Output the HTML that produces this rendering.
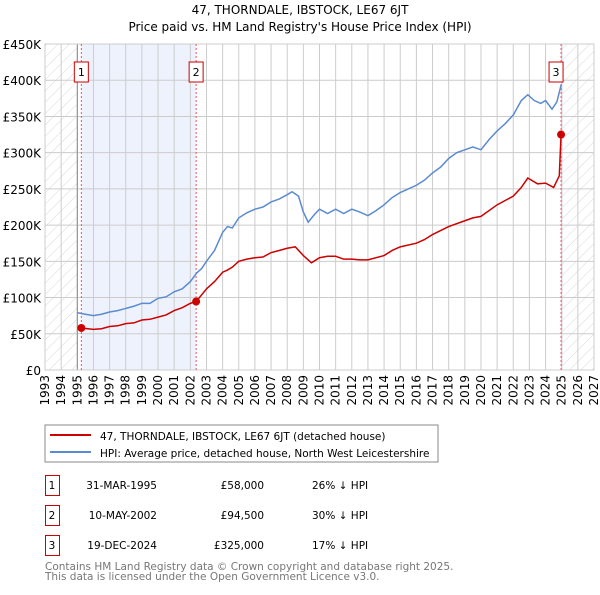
<!DOCTYPE html>
<html><head><meta charset="utf-8"><style>
body{margin:0;background:#fff;font-family:"Liberation Sans","DejaVu Sans",sans-serif;}
svg text{font-family:"DejaVu Sans","Liberation Sans",sans-serif;}
</style></head><body>
<svg id="c" width="600" height="590" xmlns="http://www.w3.org/2000/svg">
<defs><pattern id="h" width="8" height="8" patternUnits="userSpaceOnUse" patternTransform="rotate(45)"><line x1="0" y1="0" x2="0" y2="8" stroke="#d8d8d8" stroke-width="1"/></pattern></defs>
<text x="300" y="14" text-anchor="middle" font-size="12">47, THORNDALE, IBSTOCK, LE67 6JT</text>
<text x="300" y="31" text-anchor="middle" font-size="12">Price paid vs. HM Land Registry's House Price Index (HPI)</text>
<g id="plot"></g>
<rect x="45" y="425" width="393" height="37" fill="#fff" stroke="#888"/>
<line x1="50" y1="435" x2="91" y2="435" stroke="#cc0000" stroke-width="2"/>
<text x="100" y="440" font-size="10.5">47, THORNDALE, IBSTOCK, LE67 6JT (detached house)</text>
<line x1="50" y1="452" x2="91" y2="452" stroke="#5b8bd0" stroke-width="2"/>
<text x="100" y="457" font-size="10.5">HPI: Average price, detached house, North West Leicestershire</text>
<g font-size="10.5">
<rect x="45.5" y="475.5" width="14" height="20" fill="none" stroke="#cc0000"/><text x="52" y="489" text-anchor="middle">1</text>
<text x="157" y="489" text-anchor="end">31-MAR-1995</text><text x="264" y="489" text-anchor="end">£58,000</text><text x="312" y="489">26% ↓ HPI</text>
<rect x="45.5" y="505.5" width="14" height="20" fill="none" stroke="#cc0000"/><text x="52" y="519" text-anchor="middle">2</text>
<text x="157" y="519" text-anchor="end">10-MAY-2002</text><text x="264" y="519" text-anchor="end">£94,500</text><text x="312" y="519">30% ↓ HPI</text>
<rect x="45.5" y="535.5" width="14" height="20" fill="none" stroke="#cc0000"/><text x="52" y="549" text-anchor="middle">3</text>
<text x="157" y="549" text-anchor="end">19-DEC-2024</text><text x="264" y="549" text-anchor="end">£325,000</text><text x="312" y="549">17% ↓ HPI</text>
</g>
<text x="45" y="570" font-size="10.5" fill="#777">Contains HM Land Registry data © Crown copyright and database right 2025.</text>
<text x="45" y="580" font-size="10.5" fill="#777">This data is licensed under the Open Government Licence v3.0.</text>
</svg>
<script>
const yTicks=[0,50,100,150,200,250,300,350,400,450];
const years=[1993,1994,1995,1996,1997,1998,1999,2000,2001,2002,2003,2004,2005,2006,2007,2008,2009,2010,2011,2012,2013,2014,2015,2016,2017,2018,2019,2020,2021,2022,2023,2024,2025,2026,2027];
const hpiT=[1995.0,1995.5,1996,1996.5,1997,1997.5,1998,1998.5,1999,1999.5,2000,2000.5,2001,2001.5,2002,2002.4,2002.7,2003,2003.5,2004,2004.3,2004.6,2005,2005.5,2006,2006.5,2007,2007.5,2008,2008.3,2008.7,2009,2009.3,2009.7,2010,2010.5,2011,2011.5,2012,2012.5,2013,2013.5,2014,2014.5,2015,2015.5,2016,2016.5,2017,2017.5,2018,2018.5,2019,2019.5,2020,2020.5,2021,2021.5,2022,2022.5,2022.9,2023.3,2023.7,2024,2024.4,2024.7,2024.97];
const hpiV=[79,77,75,77,80,82,85,88,92,92,99,101,108,112,122,134,140,150,165,190,198,196,210,217,222,225,232,236,242,246,240,218,204,215,222,216,222,216,222,218,213,220,228,238,245,250,255,262,272,280,292,300,304,308,304,318,330,340,352,372,380,372,368,372,360,370,394];
const ppT=[1995.25,1996,1996.5,1997,1997.5,1998,1998.5,1999,1999.5,2000,2000.5,2001,2001.5,2002,2002.36,2003,2003.5,2004,2004.3,2004.6,2005,2005.5,2006,2006.5,2007,2007.5,2008,2008.5,2009,2009.5,2010,2010.5,2011,2011.5,2012,2012.5,2013,2014,2014.5,2015,2016,2016.5,2017,2018,2019,2019.5,2020,2021,2022,2022.5,2022.9,2023.5,2024,2024.5,2024.85,2024.96];
const ppV=[58,56,57,60,61,64,65,69,70,73,76,82,86,92,94.5,112,122,135,138,142,150,153,155,156,162,165,168,170,158,148,155,157,157,153,153,152,152,158,165,170,175,180,187,198,206,210,212,228,240,252,265,257,258,252,268,325];
const sales=[[1995.25,58],[2002.36,94.5],[2024.96,325]];
const L=45,R=594,T=44,B=370;
const X=t=>L+(t-1993)*(R-L)/34, Y=v=>B-v*(B-T)/450;
const NS="http://www.w3.org/2000/svg",g=document.getElementById('plot');
function mk(tag,a,p){const e=document.createElementNS(NS,tag);for(const k in a)e.setAttribute(k,a[k]);(p||g).appendChild(e);return e;}
let e;
e=mk('rect',{x:X(1995.25),y:T,width:X(2002.36)-X(1995.25),height:B-T,fill:'#eef2fc'});


e=mk('rect',{x:L,y:T,width:X(1995)-L,height:B-T,fill:'url(#h)'});


e=mk('rect',{x:X(2025),y:T,width:R-X(2025),height:B-T,fill:'url(#h)'});


e=mk('rect',{x:X(2024.96),y:T,width:X(2025)-X(2024.96)+1,height:B-T,fill:'#e6ecfa'});


yTicks.forEach(v=>{
 e=mk('line',{x1:L,x2:R,y1:Y(v),y2:Y(v),stroke:'#ccc'});
 
 
 e=mk('text',{x:L-4,y:Y(v)+5,'text-anchor':'end','font-size':12});
 e.textContent=v===0?'£0':'£'+v+'K';
 
 
});
years.forEach(yr=>{
 e=mk('line',{x1:X(yr),x2:X(yr),y1:T,y2:B,stroke:'#ccc'});
 
 
 e=mk('text',{x:0,y:0,'text-anchor':'end','font-size':12,transform:`translate(${X(yr)+4},${B+5}) rotate(-90)`});
 e.textContent=yr;
 
 
});
e=mk('line',{x1:X(1995),x2:X(1995),y1:T,y2:B,stroke:'#888'});


e=mk('rect',{x:L,y:T,width:R-L,height:B-T,fill:'none',stroke:'#ccc'});


sales.forEach((s,i)=>{
 e=mk('line',{x1:X(s[0]),x2:X(s[0]),y1:T,y2:B,stroke:'#e55','stroke-dasharray':'2,2'});
 
 
});
e=mk('polyline',{points:hpiT.map((t,i)=>X(t)+','+Y(hpiV[i])).join(' '),fill:'none',stroke:'#5b8bd0','stroke-width':1.5});


e=mk('polyline',{points:ppT.map((t,i)=>X(t)+','+Y(ppV[i])).join(' '),fill:'none',stroke:'#cc0000','stroke-width':1.5});


sales.forEach((s,i)=>{
 e=mk('circle',{cx:X(s[0]),cy:Y(s[1]),r:4,fill:'#cc0000'});
 
 
 const bx=X(s[0])-(i==2?5:0);
 e=mk('rect',{x:bx-7,y:62,width:14,height:20,fill:'#fff',stroke:'#cc0000'});
 
 
 e=mk('text',{x:bx,y:76,'text-anchor':'middle','font-size':11});
 e.textContent=i+1;
 
 
});
</script>
</body></html>
